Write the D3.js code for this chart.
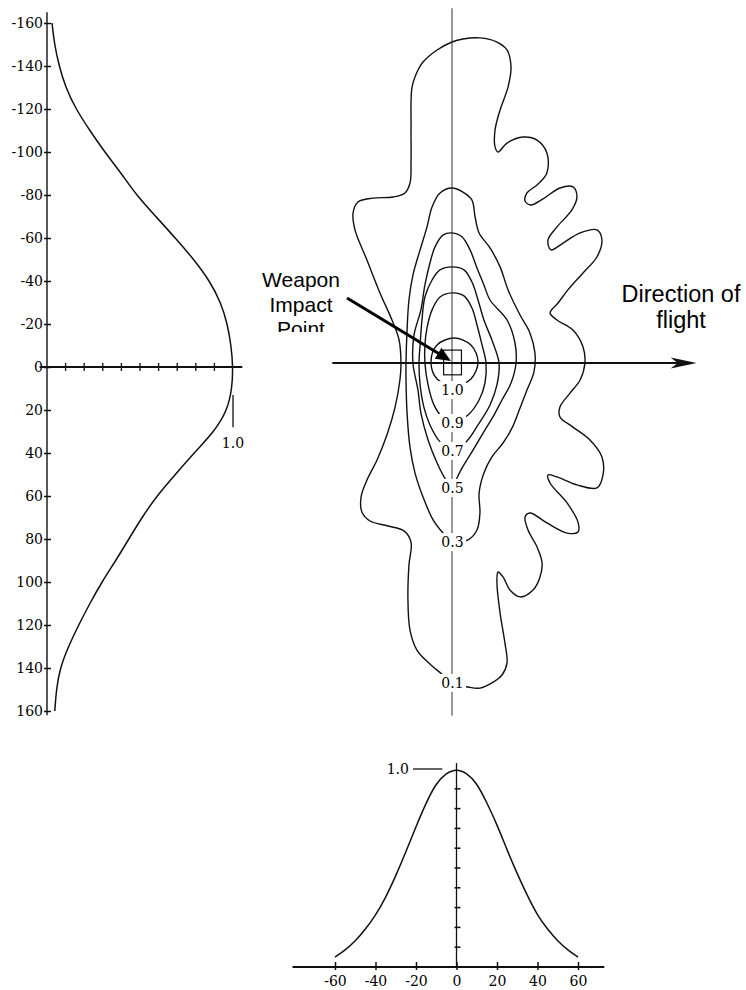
<!DOCTYPE html>
<html>
<head>
<meta charset="utf-8">
<script src="https://cdn.jsdelivr.net/npm/d3@7"></script>
<style>
body { margin: 0; background: #fff; }
svg { display: block; }
.num { font-family: "DejaVu Serif", serif; font-size: 14px; fill: #000; }
.note { font-family: "Liberation Sans", Arial, sans-serif; fill: #000; }
</style>
</head>
<body>
<svg id="fig" width="746" height="990"></svg>
<script>

// cross-range profile (left chart), ft vs relative probability
var crossY = [-160,-150,-140,-130,-120,-110,-100,-90,-80,-70,-60,-50,-40,-30,-20,-10,0,
              10,20,30,40,50,60,70,80,90,100,110,120,130,140,150,160];
var crossP = [0.027,0.04,0.065,0.10,0.155,0.23,0.31,0.40,0.48,0.585,0.69,0.79,0.875,0.935,0.97,0.99,1.0,
              0.995,0.97,0.90,0.79,0.69,0.59,0.51,0.44,0.37,0.295,0.23,0.17,0.115,0.07,0.05,0.042];
var crossTicks = [-160,-140,-120,-100,-80,-60,-40,-20,0,20,40,60,80,100,120,140,160];
var probTicks = [0.1,0.2,0.3,0.4,0.5,0.6,0.7,0.8,0.9];

// down-range profile (bottom chart)
var downX = [-60,-55,-50,-45,-40,-35,-30,-25,-20,-15,-10,-5,0,5,10,15,20,25,30,35,40,45,50,55,60];
var downP = [0.05,0.085,0.13,0.19,0.26,0.35,0.46,0.58,0.71,0.83,0.93,0.98,1.0,0.98,0.93,0.83,0.72,0.59,0.47,0.36,0.26,0.19,0.13,0.085,0.05];
var downTicks = [-60,-40,-20,0,20,40,60];

// kill probability contours, [down-range ft, cross-range ft]
var contourLevels = ["1.0","0.9","0.7","0.5","0.3","0.1"];
var labelY = [12.6, 27.9, 40.9, 58.1, 83.3, 148.8];

var c10 = [[1.0,-11.6],[9.0,-8.4],[12.4,-0.5],[9.0,7.4],[1.0,10.7],[-7.1,7.4],[-10.0,-0.5],[-7.1,-8.4]];
var c09 = [[0,-32.6],[5.7,-31.2],[9.5,-25.6],[11.9,-17.7],[14.3,-8.4],[16.2,0],[15.7,9.3],[12.9,17.2],
           [7.6,24.2],[0,27.9],[-4.3,25.6],[-8.6,19.5],[-11.4,10.2],[-12.9,0],[-12.9,-8.4],[-11.9,-16.3],
           [-9.5,-24.7],[-5.7,-30.7]];
var c07 = [[0,-44.7],[5.7,-43.3],[9.5,-37.7],[12.4,-29.3],[15.2,-20.0],[19.0,-10.7],[22.4,0],[21.4,10.2],
           [18.1,19.5],[12.4,28.8],[6.7,36.7],[0,40.9],[-5.7,36.7],[-10.5,28.8],[-13.3,20.9],[-15.2,10.2],
           [-15.7,0],[-15.2,-8.4],[-14.3,-20.0],[-12.9,-30.7],[-9.5,-38.6],[-5.7,-43.3]];
var c05 = [[0,-60.5],[4.8,-58.6],[8.6,-52.6],[11.9,-44.2],[15.2,-36.3],[18.1,-29.3],[26.2,-20.0],[30.0,-9.3],
           [30.5,0],[28.1,9.3],[23.8,17.2],[19.5,25.1],[14.8,32.6],[10.0,40.5],[4.8,48.8],[1.9,54.4],[0,58.1],
           [-2.9,54.4],[-7.1,46.5],[-11.4,35.8],[-14.8,23.3],[-16.2,12.6],[-18.6,0],[-18.1,-13.0],[-14.8,-24.7],
           [-12.9,-36.3],[-10.5,-46.5],[-8.1,-54.0],[-4.3,-59.5]];
var c03 = [[0,-81.4],[5.2,-79.5],[9.5,-75.8],[11.0,-67.9],[12.9,-60.5],[18.1,-53.5],[22.9,-44.7],[26.7,-34.0],
           [32.4,-22.3],[37.1,-14.0],[39.5,-4.7],[39.0,4.2],[35.7,12.6],[32.4,20.9],[28.6,30.2],[24.3,37.2],
           [19.0,43.7],[15.2,51.2],[12.9,60.5],[13.3,69.8],[11.9,77.7],[7.6,82.3],[0,83.3],[-4.3,79.1],
           [-9.0,73.0],[-13.8,62.3],[-17.6,51.2],[-20.0,39.1],[-21.4,23.3],[-21.9,7.9],[-21.9,0],[-21.4,-15.3],
           [-20.5,-29.3],[-18.6,-40.9],[-15.2,-52.6],[-11.9,-63.3],[-9.5,-72.6],[-5.7,-79.1]];
var c01 = [[0,-149.3],[5.2,-150.7],[13.3,-151.2],[21.4,-149.3],[26.2,-145.6],[28.1,-137.7],[26.7,-128.4],
           [22.9,-117.7],[20.5,-108.4],[20.5,-100.5],[21.9,-98.1],[26.2,-102.3],[33.8,-105.1],[40.5,-103.7],
           [45.2,-97.7],[45.2,-88.4],[40.5,-82.8],[35.7,-79.1],[34.8,-75.3],[37.6,-73.5],[43.3,-76.3],
           [51.4,-81.4],[57.6,-81.9],[59.5,-77.2],[57.1,-71.2],[50.0,-63.3],[45.7,-57.2],[47.1,-52.6],
           [52.9,-55.8],[61.0,-60.5],[69.0,-61.9],[71.4,-57.2],[69.0,-49.3],[62.4,-41.9],[55.2,-34.0],
           [50.5,-27.9],[46.7,-23.3],[50.0,-20.0],[57.6,-15.3],[62.4,-7.4],[63.3,0],[61.0,7.9],[56.2,14.0],
           [51.4,20.5],[51.4,25.1],[57.6,29.8],[65.7,35.8],[71.4,43.7],[71.9,52.1],[69.0,58.1],[59.5,56.7],
           [50.0,53.0],[45.7,52.1],[46.7,55.8],[54.8,65.1],[60.0,74.0],[60.0,78.6],[54.8,79.1],[45.2,74.4],
           [37.1,69.8],[34.8,71.6],[36.2,77.7],[40.5,85.6],[42.9,93.0],[41.9,99.5],[38.6,105.6],[32.4,108.8],
           [27.6,105.6],[24.3,99.5],[21.9,97.2],[21.4,102.3],[22.9,116.3],[25.2,130.2],[26.2,139.5],
           [23.8,145.1],[19.0,148.8],[13.3,151.2],[7.6,150.7],[0,148.8],[-4.3,145.1],[-10.5,140.0],
           [-16.7,133.5],[-20.0,124.2],[-21.0,108.8],[-20.5,94.0],[-19.5,83.3],[-22.9,78.1],[-30.5,75.8],
           [-39.0,73.5],[-42.9,69.3],[-43.3,62.3],[-40.5,54.4],[-35.7,45.1],[-31.0,33.5],[-27.1,20.5],
           [-24.8,7.9],[-24.3,0],[-25.2,-10.7],[-28.6,-20.0],[-34.3,-32.6],[-40.5,-47.9],[-46.2,-61.9],
           [-47.1,-69.8],[-44.8,-74.9],[-37.6,-76.7],[-28.1,-77.2],[-22.4,-79.1],[-20.0,-83.7],[-19.5,-94.4],
           [-19.5,-109.8],[-19.0,-128.4],[-16.2,-136.3],[-13.8,-140.0],[-7.1,-145.6]];
var contours = [c10, c09, c07, c05, c03, c01];

// impact point box and leader (ft)
var impactBox = {x0: -4, x1: 4.5, y0: -6, y1: 5.5};
var leaderFrom = [-50, -30.2], leaderTo = [-0.5, -0.9];

var ink = "#111";
var svg = d3.select("#fig");

// ---------- left chart
var yL = d3.scaleLinear().domain([-160,160]).range([23,711]);
var xL = d3.scaleLinear().domain([0,1]).range([47,233]);
var left = svg.append("g");

left.append("line")
    .attr("x1", xL(0)).attr("x2", xL(0))
    .attr("y1", yL(-165)).attr("y2", yL(162))
    .attr("stroke", ink).attr("stroke-width", 1.4);

var ay = left.append("g")
    .attr("transform", "translate(" + xL(0) + ",0)")
    .call(d3.axisLeft(yL).tickValues(crossTicks).tickSize(3).tickSizeOuter(0).tickPadding(1)
          .tickFormat(function(d){ return String(d) }));
ay.select(".domain").remove();
ay.selectAll(".tick line").attr("x1", 4).attr("x2", -3).attr("stroke", ink).attr("stroke-width", 1.5);
ay.selectAll(".tick text").attr("class", "num");

left.append("line")
    .attr("x1", xL(-0.04)).attr("x2", xL(1.05))
    .attr("y1", yL(0)).attr("y2", yL(0))
    .attr("stroke", ink).attr("stroke-width", 2);

left.selectAll(".pt").data(probTicks).enter().append("line")
    .attr("x1", function(d){ return xL(d) }).attr("x2", function(d){ return xL(d) })
    .attr("y1", yL(0) - 4).attr("y2", yL(0) + 4)
    .attr("stroke", ink).attr("stroke-width", 1.3);

var crossLine = d3.line()
    .x(function(d,i){ return xL(crossP[i]) })
    .y(function(d){ return yL(d) })
    .curve(d3.curveBasis);
left.append("path").attr("d", crossLine(crossY))
    .attr("fill", "none").attr("stroke", ink).attr("stroke-width", 1.5);

left.append("line")
    .attr("x1", xL(1)).attr("x2", xL(1))
    .attr("y1", yL(13)).attr("y2", yL(28))
    .attr("stroke", ink).attr("stroke-width", 1.3);
left.append("text").attr("class", "num")
    .attr("x", xL(1)).attr("y", yL(37.5))
    .attr("text-anchor", "middle").text("1.0");

// ---------- contour plot
var xC = d3.scaleLinear().domain([-60,60]).range([326,578]);
var yC = d3.scaleLinear().domain([-160,160]).range([19,707]);
var mid = svg.append("g");

var ring = d3.line()
    .x(function(d){ return xC(d[0]) })
    .y(function(d){ return yC(d[1]) })
    .curve(d3.curveCatmullRomClosed.alpha(0.5));

mid.selectAll(".ct").data(contours).enter().append("path")
    .attr("d", ring)
    .attr("fill", "none").attr("stroke", ink).attr("stroke-width", 1.4);

mid.append("line")
    .attr("x1", xC(0)).attr("x2", xC(0))
    .attr("y1", yC(-165)).attr("y2", yC(164))
    .attr("stroke", "#333").attr("stroke-width", 1);

mid.append("line")
    .attr("x1", xC(-57)).attr("x2", xC(114))
    .attr("y1", yC(0)).attr("y2", yC(0))
    .attr("stroke", ink).attr("stroke-width", 2);
var tipX = xC(116.5), tipY = yC(0);
mid.append("path")
    .attr("d", "M" + tipX + "," + tipY + "L" + (tipX - 26) + "," + (tipY - 5.5) +
               "L" + (tipX - 19) + "," + tipY + "L" + (tipX - 26) + "," + (tipY + 5.5) + "Z")
    .attr("fill", ink);

mid.append("rect")
    .attr("x", xC(impactBox.x0)).attr("y", yC(impactBox.y0))
    .attr("width", xC(impactBox.x1) - xC(impactBox.x0))
    .attr("height", yC(impactBox.y1) - yC(impactBox.y0))
    .attr("fill", "none").attr("stroke", ink).attr("stroke-width", 1.2);

// leader arrow
var lx0 = xC(leaderFrom[0]), ly0 = yC(leaderFrom[1]);
var lx1 = xC(leaderTo[0]), ly1 = yC(leaderTo[1]);
var ang = Math.atan2(ly1 - ly0, lx1 - lx0);
var hl = 15, hw = 6.5;
var bx = lx1 - hl * Math.cos(ang), by = ly1 - hl * Math.sin(ang);
mid.append("line")
    .attr("x1", lx0).attr("y1", ly0).attr("x2", bx + 2 * Math.cos(ang)).attr("y2", by + 2 * Math.sin(ang))
    .attr("stroke", "#000").attr("stroke-width", 3);
mid.append("path")
    .attr("d", "M" + lx1 + "," + ly1 +
               "L" + (bx - hw * Math.sin(ang)) + "," + (by + hw * Math.cos(ang)) +
               "L" + (bx + hw * Math.sin(ang)) + "," + (by - hw * Math.cos(ang)) + "Z")
    .attr("fill", "#000");

// level labels, with a white patch behind each one
var lab = mid.selectAll(".lv").data(contourLevels).enter().append("g");
lab.append("rect")
    .attr("x", xC(0) - 14).attr("width", 28)
    .attr("y", function(d,i){ return yC(labelY[i]) - 9 }).attr("height", 18)
    .attr("fill", "#fff");
lab.append("text").attr("class", "num")
    .attr("x", xC(0) + 0.5)
    .attr("y", function(d,i){ return yC(labelY[i]) })
    .attr("dy", "0.36em")
    .attr("text-anchor", "middle")
    .text(function(d){ return d });

// annotations
svg.append("clipPath").attr("id", "cut").append("rect")
    .attr("x", 0).attr("y", 0).attr("width", 746).attr("height", 332);
var wip = svg.append("text").attr("class", "note")
    .attr("clip-path", "url(#cut)")
    .attr("font-size", 21).attr("text-anchor", "middle");
["Weapon","Impact","Point"].forEach(function(s,i){
    wip.append("tspan").attr("x", 301).attr("y", 287 + i * 24.5).text(s);
});
var dof = svg.append("text").attr("class", "note")
    .attr("font-size", 23.5).attr("text-anchor", "middle");
["Direction of","flight"].forEach(function(s,i){
    dof.append("tspan").attr("x", 681).attr("y", 302 + i * 25.5).text(s);
});

// ---------- bottom chart
var xB = d3.scaleLinear().domain([-60,60]).range([335,578]);
var yB = d3.scaleLinear().domain([0,1]).range([967,769]);
var bot = svg.append("g");

bot.append("line")
    .attr("x1", xB(-81)).attr("x2", xB(73))
    .attr("y1", yB(0)).attr("y2", yB(0))
    .attr("stroke", ink).attr("stroke-width", 1.8);

var ax = bot.append("g")
    .attr("transform", "translate(0," + yB(0) + ")")
    .call(d3.axisBottom(xB).tickValues(downTicks).tickSize(3).tickSizeOuter(0).tickPadding(6)
          .tickFormat(function(d){ return String(d) }));
ax.select(".domain").remove();
ax.selectAll(".tick line").attr("y1", -5).attr("y2", 3).attr("stroke", ink).attr("stroke-width", 1.5);
ax.selectAll(".tick text").attr("class", "num");

bot.append("line")
    .attr("x1", xB(0)).attr("x2", xB(0))
    .attr("y1", yB(1.03)).attr("y2", yB(0))
    .attr("stroke", ink).attr("stroke-width", 1.3);
bot.selectAll(".vt").data(probTicks).enter().append("line")
    .attr("x1", xB(0) - 2).attr("x2", xB(0) + 4)
    .attr("y1", function(d){ return yB(d) }).attr("y2", function(d){ return yB(d) })
    .attr("stroke", ink).attr("stroke-width", 1.5);

bot.append("line")
    .attr("x1", xB(-21.5)).attr("x2", xB(-7))
    .attr("y1", yB(1)).attr("y2", yB(1))
    .attr("stroke", ink).attr("stroke-width", 1.3);
bot.append("text").attr("class", "num")
    .attr("x", xB(-23.5)).attr("y", yB(1)).attr("dy", "0.36em")
    .attr("text-anchor", "end").text("1.0");

var downLine = d3.line()
    .x(function(d){ return xB(d) })
    .y(function(d,i){ return yB(downP[i]) })
    .curve(d3.curveBasis);
bot.append("path").attr("d", downLine(downX))
    .attr("fill", "none").attr("stroke", ink).attr("stroke-width", 1.5);

</script>
</body>
</html>
